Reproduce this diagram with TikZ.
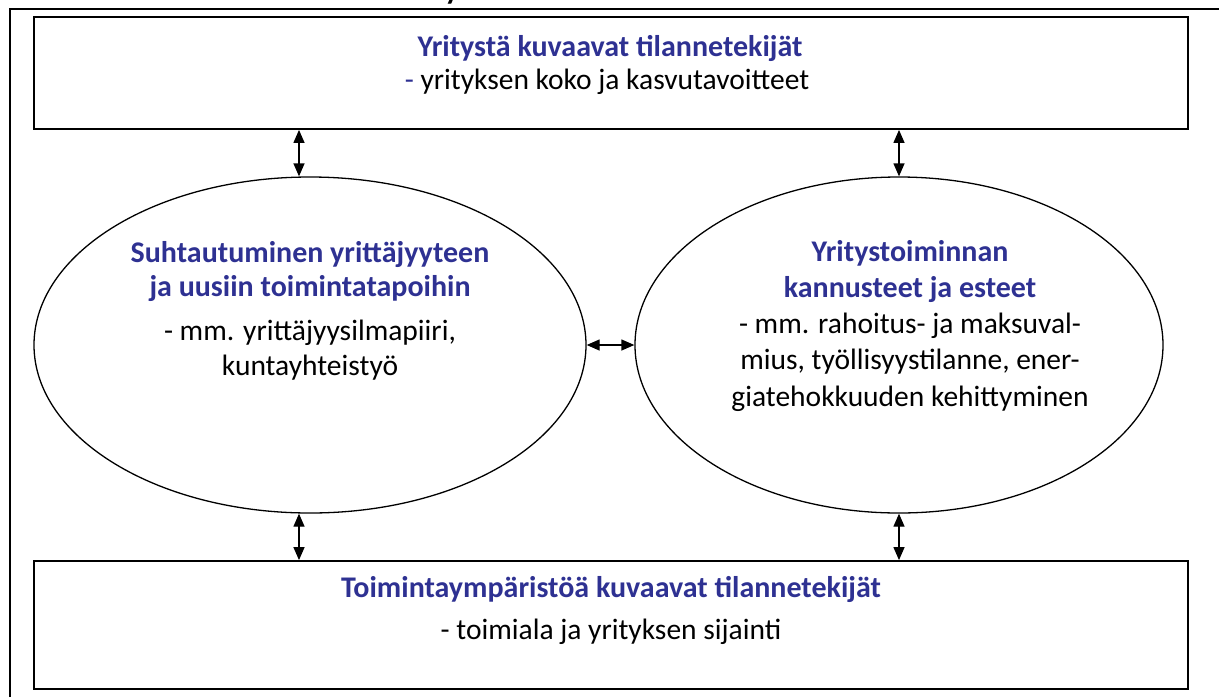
\documentclass[tikz,border=0pt]{standalone}
\usepackage{fontspec}
\setmainfont{Carlito}
\usetikzlibrary{shapes.geometric,arrows.meta}
\definecolor{titleblue}{RGB}{46,49,146}
\tikzset{
  boxstyle/.style={draw=black, line width=1.8pt, rectangle, inner sep=0pt},
  ellstyle/.style={draw=black, line width=1.3pt, ellipse, inner sep=0pt},
  titletext/.style={font=\fontsize{30}{35.5}\selectfont\bfseries, text=titleblue, align=center, inner sep=0pt, anchor=base},
  bodytext/.style={font=\fontsize{29.5}{36.5}\selectfont, text=black, align=center, inner sep=0pt, anchor=base},
  arr/.style={line width=1.3pt, {Triangle[length=13pt,width=11pt]}-{Triangle[length=13pt,width=11pt]}},
}
\begin{document}
\begin{tikzpicture}[x=1pt,y=-1pt]
\useasboundingbox (0,0) rectangle (1219,697);
% outer frame (partly visible)
\draw[line width=1.3pt] (10,697) -- (10,9);
\draw[line width=2.6pt] (9,9) -- (1219,9);
% cut-off glyph above frame
\begin{scope}
\clip (0,0) rectangle (1219,6.5);
\node[font=\fontsize{30}{30}\selectfont\bfseries, anchor=base, inner sep=0pt] (cutglyph) at (452,-1) {y};
\end{scope}
% boxes
\node[boxstyle, minimum width=1154pt, minimum height=112pt] (topbox) at (611,73) {};
\node[boxstyle, minimum width=1154pt, minimum height=128pt] (botbox) at (611,625) {};
% ellipses
\node[ellstyle, minimum width=552pt, minimum height=336pt] (ellL) at (310,345) {};
\node[ellstyle, minimum width=528pt, minimum height=336pt] (ellR) at (899,345) {};
% texts (base = baseline of last line)
\node[titletext] (toptitle) at (610,56) {Yritystä kuvaavat tilannetekijät};
\node[bodytext] (topsub) at (607,89) {\textcolor{titleblue}{-} yrityksen koko ja kasvutavoitteet};
\node[titletext] (bottitle) at (611,597) {Toimintaympäristöä kuvaavat tilannetekijät};
\node[bodytext] (botsub) at (611,639) {- toimiala ja yrityksen sijainti};
\node[titletext, font=\fontsize{30}{34}\selectfont\bfseries] (ltitle) at (310,296) {Suhtautuminen yrittäjyyteen\\ja uusiin toimintatapoihin};
\node[bodytext, font=\fontsize{29.5}{35}\selectfont] (lbody) at (310,375) {- mm. yrittäjyysilmapiiri,\\kuntayhteistyö};
\node[titletext] (rtitle) at (910,297) {Yritystoiminnan\\kannusteet ja esteet};
\node[bodytext] (rbody) at (910,406) {- mm. rahoitus- ja maksuval-\\mius, työllisyystilanne, ener-\\giatehokkuuden kehittyminen};
% arrow x positions
\coordinate (axL) at (299,0);
\coordinate (axR) at (899,0);
\draw[arr] (topbox.south -| axL) -- (ellL.north -| axL);
\draw[arr] (topbox.south -| axR) -- (ellR.north -| axR);
\draw[arr] (ellL.south -| axL) -- (botbox.north -| axL);
\draw[arr] (ellR.south -| axR) -- (botbox.north -| axR);
\draw[arr] (ellL.east) -- (ellR.west);
\end{tikzpicture}
\end{document}
